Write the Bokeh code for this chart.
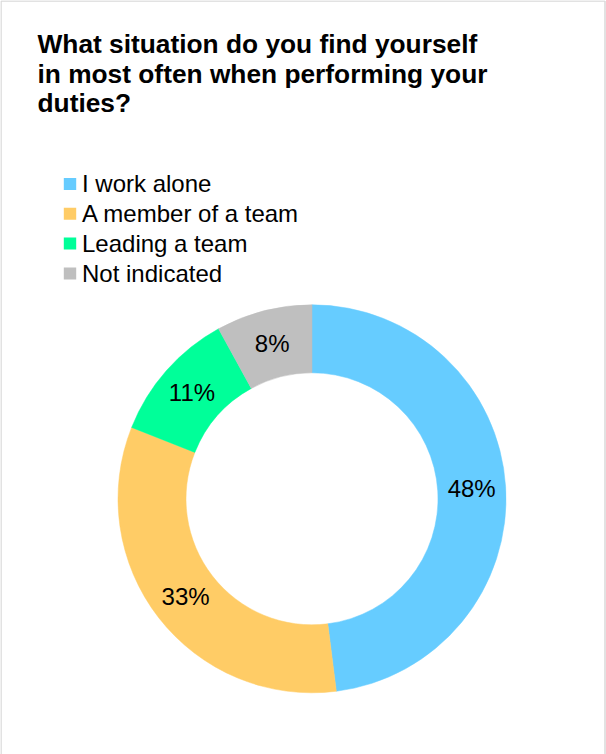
import numpy as np
from bokeh.plotting import figure
from bokeh.models import Range1d, ColumnDataSource
from bokeh.core.properties import value
from bokeh.embed import file_html
from bokeh.resources import INLINE

title_lines = ["What situation do you find yourself",
               "in most often when performing your",
               "duties?"]
categories = ["I work alone", "A member of a team", "Leading a team", "Not indicated"]
shares = [48, 33, 11, 8]
colors = ["#66CCFF", "#FFCC66", "#00FF99", "#BFBFBF"]

W, H = 606, 754
FONT = "Liberation Sans"

p = figure(width=W, height=H, x_range=Range1d(0, W), y_range=Range1d(0, H),
           min_border=0, output_backend="svg", toolbar_location=None,
           x_axis_location=None, y_axis_location=None)
p.grid.visible = False
p.outline_line_color = None
p.background_fill_color = "white"
p.border_fill_color = "white"

def Y(py):
    return H - py

# border (top, left, right)
p.segment(x0=[0.5, 0.5, W - 1.5], y0=[Y(0.5), Y(0.5), Y(0.5)],
          x1=[W - 1.5, 0.5, W - 1.5], y1=[Y(0.5), 0, 0],
          line_color="#D9D9D9", line_width=1.5)

# title
p.text(x=[37] * 3, y=[Y(43.8 + 29.2 * i) for i in range(3)], text=title_lines,
       text_font=value(FONT), text_font_size="26.3px", text_font_style="bold",
       text_color="black", text_baseline="middle", text_align="left")

# legend
n = len(categories)
sq_y = [Y(183.5 + 29.8 * i) for i in range(n)]
p.rect(x=[69.5] * n, y=sq_y, width=12.4, height=12, fill_color=colors, line_color=None)
p.text(x=[81.5] * n, y=[Y(183.3 + 29.8 * i) for i in range(n)], text=categories,
       text_font=value(FONT), text_font_size="24px", text_color="black",
       text_baseline="middle", text_align="left")

# donut
cx, cy = 311.5, Y(498.3)
r_in, r_out = 126, 194
total = sum(shares)
frac = np.array(shares, dtype=float) / total
cum = np.concatenate([[0], np.cumsum(frac)])
start = np.pi / 2 - 2 * np.pi * cum[:-1]
end = np.pi / 2 - 2 * np.pi * cum[1:]
src = ColumnDataSource(dict(start=start, end=end, color=colors))
p.annular_wedge(x=cx, y=cy, inner_radius=r_in, outer_radius=r_out,
                start_angle="start", end_angle="end", direction="clock",
                fill_color="color", line_color="color", line_width=0.5, source=src)

mid = np.pi / 2 - 2 * np.pi * (cum[:-1] + cum[1:]) / 2
r_lab = (r_in + r_out) / 2
lx = cx + r_lab * np.cos(mid)
ly = cy + r_lab * np.sin(mid)
labels = [f"{s}%" for s in shares]
p.text(x=lx, y=ly, text=labels, text_font=value(FONT), text_font_size="24px",
       text_color="black", text_align="center", text_baseline="middle")

open("out.html", "w").write(file_html(p, INLINE))
